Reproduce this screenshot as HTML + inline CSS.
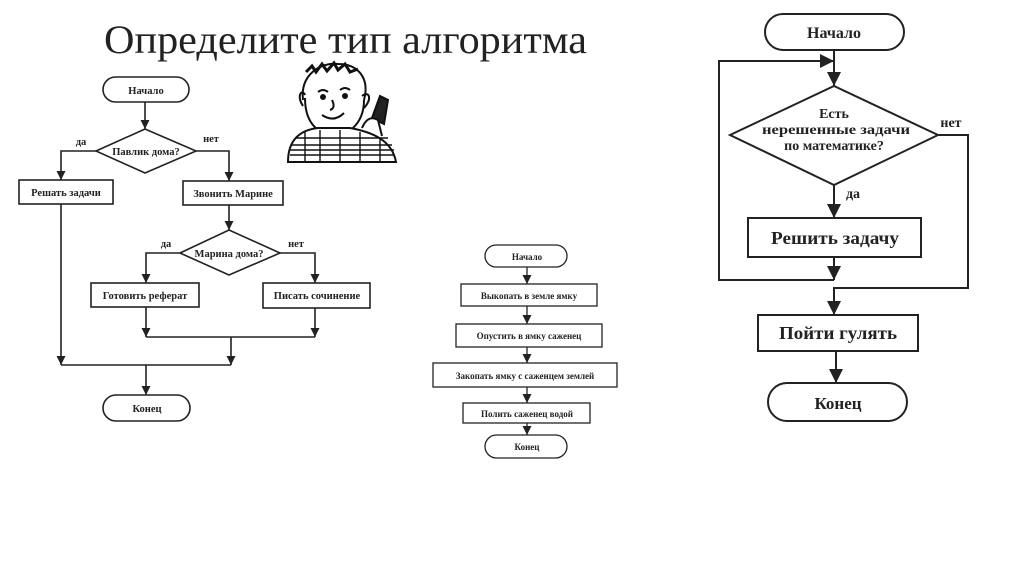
<!DOCTYPE html>
<html><head><meta charset="utf-8"><style>
html,body{margin:0;padding:0;background:#fff;}
svg{display:block;}
text{font-family:"Liberation Serif","Noto Serif CJK SC",serif;font-weight:bold;fill:#222;}
</style></head><body>
<svg width="1024" height="574" viewBox="0 0 1024 574" xmlns="http://www.w3.org/2000/svg">
<defs>
<marker id="a" viewBox="0 0 10 10" refX="10" refY="5" markerWidth="9" markerHeight="9" markerUnits="userSpaceOnUse" orient="auto"><path d="M0,0 L10,5 L0,10 z" fill="#222"/></marker>
<marker id="b" viewBox="0 0 10 10" refX="10" refY="5" markerWidth="14" markerHeight="14" markerUnits="userSpaceOnUse" orient="auto"><path d="M0,0 L10,5 L0,10 z" fill="#222"/></marker>
</defs>
<rect width="1024" height="574" fill="#fff"/>
<text x="104" y="53" font-size="40" style="font-weight:normal" fill="#111" textLength="483" lengthAdjust="spacingAndGlyphs">Определите тип алгоритма</text>

<!-- LEFT DIAGRAM -->
<g stroke="#222" stroke-width="1.6" fill="none">
<rect x="103" y="77" width="86" height="25" rx="12.5"/>
<line x1="145" y1="102" x2="145" y2="129" marker-end="url(#a)"/>
<polygon points="96,151 145,129 196,151 145,173"/>
<polyline points="96,151 61,151 61,180" marker-end="url(#a)"/>
<polyline points="196,151 229,151 229,181" marker-end="url(#a)"/>
<rect x="19" y="180" width="94" height="24"/>
<rect x="183" y="181" width="100" height="24"/>
<line x1="229" y1="205" x2="229" y2="230" marker-end="url(#a)"/>
<polygon points="180,253 229,230 280,253 229,275"/>
<polyline points="180,253 146,253 146,283" marker-end="url(#a)"/>
<polyline points="280,253 315,253 315,283" marker-end="url(#a)"/>
<rect x="91" y="283" width="108" height="24"/>
<rect x="263" y="283" width="107" height="25"/>
<line x1="146" y1="307" x2="146" y2="337" marker-end="url(#a)"/>
<line x1="315" y1="308" x2="315" y2="337" marker-end="url(#a)"/>
<line x1="146" y1="337" x2="315" y2="337"/>
<line x1="231" y1="337" x2="231" y2="365" marker-end="url(#a)"/>
<line x1="61" y1="204" x2="61" y2="365" marker-end="url(#a)"/>
<line x1="61" y1="365" x2="231" y2="365"/>
<line x1="146" y1="365" x2="146" y2="395" marker-end="url(#a)"/>
<rect x="103" y="395" width="87" height="26" rx="13"/>
</g>
<g font-size="10.5" text-anchor="middle">
<text x="146" y="94">Начало</text>
<text x="146" y="155">Павлик дома?</text>
<text x="81" y="145">да</text>
<text x="211" y="142">нет</text>
<text x="66" y="196">Решать задачи</text>
<text x="233" y="197">Звонить Марине</text>
<text x="229" y="257">Марина дома?</text>
<text x="166" y="247">да</text>
<text x="296" y="247">нет</text>
<text x="145" y="299">Готовить реферат</text>
<text x="317" y="299">Писать сочинение</text>
<text x="147" y="412">Конец</text>
</g>

<!-- BOY sketch -->
<g stroke="#111" stroke-width="2" fill="none">
<path d="M303,100 C300,75 320,62 338,64 C358,64 370,78 364,100" fill="#fff"/>
<path d="M306,72 l6,-6 l4,6 l6,-8 l5,7 l7,-8 l4,7 l7,-6 l5,8 l8,-3" stroke-width="3"/>
<path d="M305,95 C302,88 296,96 303,106 M362,96 C370,90 372,100 364,108"/>
<path d="M305,98 C305,125 320,135 335,135 C350,135 364,122 364,100"/>
<path d="M318,92 q5,-4 10,0 M340,90 q5,-4 10,0" />
<circle cx="323" cy="97" r="2" fill="#111"/><circle cx="345" cy="96" r="2" fill="#111"/>
<path d="M332,100 q4,8 -2,10 M322,115 q12,8 22,-2"/>
<path d="M288,162 C288,140 300,130 318,128 L350,128 C372,132 392,140 396,162 Z" fill="#fff"/>
<path d="M292,145 h100 M290,155 h104 M305,132 v30 M320,130 v32 M340,130 v32 M360,132 v30 M380,138 v24 M296,138 h92 M290,150 h104" stroke-width="1.4"/>
<path d="M372,118 l8,-22 l8,4 l-4,24 z" fill="#222"/>
<path d="M362,128 q6,-14 16,-8 l4,16" fill="#fff"/>
</g>

<!-- MIDDLE DIAGRAM -->
<g stroke="#222" stroke-width="1.3" fill="none">
<rect x="485" y="245" width="82" height="22" rx="11"/>
<line x1="527" y1="267" x2="527" y2="284" marker-end="url(#a)"/>
<rect x="461" y="284" width="136" height="22"/>
<line x1="527" y1="306" x2="527" y2="324" marker-end="url(#a)"/>
<rect x="456" y="324" width="146" height="23"/>
<line x1="527" y1="347" x2="527" y2="363" marker-end="url(#a)"/>
<rect x="433" y="363" width="184" height="24"/>
<line x1="527" y1="387" x2="527" y2="403" marker-end="url(#a)"/>
<rect x="463" y="403" width="127" height="20"/>
<line x1="527" y1="423" x2="527" y2="435" marker-end="url(#a)"/>
<rect x="485" y="435" width="82" height="23" rx="11.5"/>
</g>
<g font-size="9" text-anchor="middle">
<text x="527" y="260">Начало</text>
<text x="529" y="299">Выкопать в земле ямку</text>
<text x="529" y="339">Опустить в ямку саженец</text>
<text x="525" y="379">Закопать ямку с саженцем землей</text>
<text x="527" y="417">Полить саженец водой</text>
<text x="527" y="450">Конец</text>
</g>

<!-- RIGHT DIAGRAM -->
<g stroke="#222" stroke-width="2" fill="none">
<rect x="765" y="14" width="139" height="36" rx="18"/>
<line x1="834" y1="50" x2="834" y2="86" marker-end="url(#b)"/>
<polyline points="834,280 719,280 719,61 834,61" marker-end="url(#b)"/>
<polygon points="730,135 834,86 938,135 834,185"/>
<line x1="834" y1="185" x2="834" y2="218" marker-end="url(#b)"/>
<rect x="748" y="218" width="173" height="39"/>
<line x1="834" y1="257" x2="834" y2="280" marker-end="url(#b)"/>
<polyline points="938,135 968,135 968,288 834,288 834,315" marker-end="url(#b)"/>
<rect x="758" y="315" width="160" height="36"/>
<line x1="836" y1="351" x2="836" y2="383" marker-end="url(#b)"/>
<rect x="768" y="383" width="139" height="38" rx="19"/>
</g>
<g font-size="16" text-anchor="middle">
<text x="834" y="38">Начало</text>
<text x="834" y="118" font-size="14">Есть</text>
<text x="836" y="134" font-size="14" textLength="148" lengthAdjust="spacingAndGlyphs">нерешенные задачи</text>
<text x="834" y="150" font-size="14">по математике?</text>
<text x="951" y="127" font-size="14">нет</text>
<text x="853" y="198" font-size="14">да</text>
<text x="835" y="244" font-size="18" textLength="128" lengthAdjust="spacingAndGlyphs">Решить задачу</text>
<text x="838" y="339" font-size="18" textLength="118" lengthAdjust="spacingAndGlyphs">Пойти гулять</text>
<text x="838" y="409" font-size="17">Конец</text>
</g>
</svg>
</body></html>
